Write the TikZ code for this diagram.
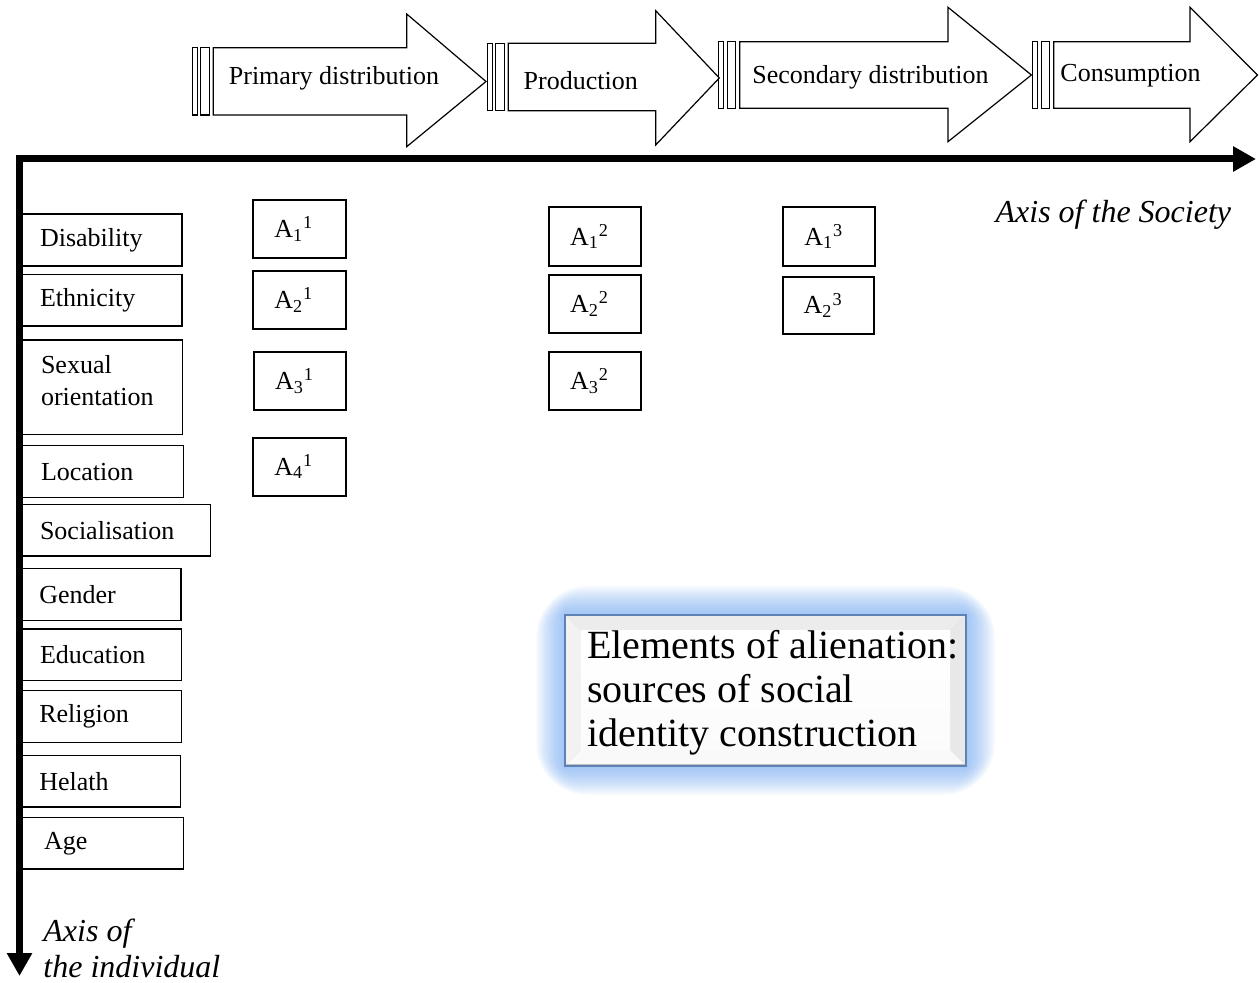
\documentclass[tikz,border=0pt]{standalone}
\usepackage{fontspec}
\setmainfont{Liberation Serif}
\usetikzlibrary{arrows.meta}
\definecolor{glowc}{RGB}{110,165,240}
\definecolor{bevelline}{RGB}{95,130,180}
\newcommand\tbox[8]{%
  \pgfmathsetmacro\tbw{(#6-#4)*0.5}%
  \pgfmathsetmacro\tbh{(#7-#5)*0.5}%
  \pgfmathsetmacro\tbt{\tbw-2*#2}%
  \node[#1, inner xsep=#2pt, minimum width=\tbw pt, minimum height=\tbh pt, text width=\tbt pt] (#3) at ({(#4+#6)/2},{(#5+#7)/2}) {#8};}
\newcommand\procarrow[8]{%
  \draw[flat] (#1,#2) rectangle ({#1+5},#3);
  \draw[flat] ({#1+8.5},#2) rectangle ({#1+17},#3);
  \draw[flat] ({#1+21},#2) -- (#4,#2) -- (#4,#5) -- (#7,#8) -- (#4,#6) -- (#4,#3) -- ({#1+21},#3) -- cycle;}
\begin{document}
\begin{tikzpicture}[x=0.5pt,y=-0.5pt,
  every node/.style={font=\fontsize{13}{15}\selectfont, inner sep=0pt},
  flat/.style={line width=0.6pt, line join=miter},
  lbx/.style={draw, line width=0.6pt, align=left},
  abx/.style={draw, line width=0.9pt, align=left},
  axisline/.style={line width=3.5pt, -{Triangle[length=11.5pt,width=12pt]}},
  axlab/.style={font=\fontsize{16}{18}\selectfont\itshape, align=left},
  ptext/.style={anchor=base west},
]
\useasboundingbox (0,0) rectangle (1259,983);

% process arrows
\procarrow{192.3}{47.7}{115}{406.7}{14}{146.7}{486}{81.5}
\procarrow{487.3}{43.3}{110.7}{655.7}{10.7}{145}{719.3}{78}
\procarrow{718.8}{41.7}{108.3}{948}{7.3}{141.7}{1031.4}{75}
\procarrow{1032.8}{41.7}{108.3}{1190}{7.3}{141.7}{1257.5}{75}
\node[ptext] (p1) at (228.5,85) {Primary distribution};
\node[ptext] (p2) at (523.3,90) {Production};
\node[ptext] (p3) at (752,84) {Secondary distribution};
\node[ptext] (p4) at (1060,82) {Consumption};

% axes
\coordinate (hstart) at (16,159);
\coordinate (hend) at (1256,159);
\coordinate (vstart) at (19.5,155.5);
\coordinate (vend) at (19.5,976);
\draw[axisline] (hstart) -- (hend);
\draw[axisline] (vstart) -- (vend);
\node[axlab, anchor=base east] (society) at (1231.5,223) {Axis of the Society};
\node[axlab, anchor=base west] (individual) at (43,977) {Axis of\\the individual};

% factor boxes
\tbox{lbx}{10}{disab}{20}{214}{182}{266}{Disability}
\tbox{lbx}{10}{ethn}{20}{274.3}{182}{326}{Ethnicity}
\tbox{lbx,font=\fontsize{13}{16}\selectfont}{10}{sexor}{21}{340}{182.7}{434.3}{Sexual\\orientation\\[-9pt]\mbox{}}
\tbox{lbx}{10}{loc}{21}{445.7}{183.3}{497.7}{Location}
\tbox{lbx}{10}{soc}{20}{504.7}{210.7}{556}{Socialisation}
\tbox{lbx}{10}{gend}{19.3}{568.3}{181}{620.3}{Gender}
\tbox{lbx}{10}{educ}{20}{629}{181.7}{680.7}{Education}
\tbox{lbx}{10}{relig}{19.3}{690.7}{181.7}{742.3}{Religion}
\tbox{lbx}{10}{health}{19.3}{755.3}{180.3}{807}{Helath}
\tbox{lbx}{11}{age}{22}{817.7}{183.7}{869}{Age}

% alienation boxes
\tbox{abx}{10.5}{a11}{253.3}{200}{345.7}{258.3}{A\textsubscript{1}\textsuperscript{1}}
\tbox{abx}{10.5}{a21}{253.3}{270.7}{345.7}{329}{A\textsubscript{2}\textsuperscript{1}}
\tbox{abx}{10.5}{a31}{254}{351.7}{346}{410}{A\textsubscript{3}\textsuperscript{1}}
\tbox{abx}{10.5}{a41}{253.3}{437.7}{345.7}{495.7}{A\textsubscript{4}\textsuperscript{1}}
\tbox{abx}{10.5}{a12}{549}{207.3}{641}{265.7}{A\textsubscript{1}\textsuperscript{2}}
\tbox{abx}{10.5}{a22}{549}{275}{641}{333.3}{A\textsubscript{2}\textsuperscript{2}}
\tbox{abx}{10.5}{a32}{549}{351.7}{641}{410}{A\textsubscript{3}\textsuperscript{2}}
\tbox{abx}{10.5}{a13}{783.3}{207.3}{875}{265.7}{A\textsubscript{1}\textsuperscript{3}}
\tbox{abx}{10.5}{a23}{782.7}{276.7}{874.3}{334.3}{A\textsubscript{2}\textsuperscript{3}}

% glowing bevelled box
\foreach \i in {1,...,16}{
  \fill[glowc, opacity=0.06, rounded corners={\i*1.6pt}] ({565-1.8*\i},{615-1.8*\i}) rectangle ({966+1.8*\i},{766+1.8*\i});
}
\fill[gray!15] (565,615) -- (966,615) -- (950,631) -- (581,631) -- cycle;
\fill[gray!10] (565,615) -- (581,631) -- (581,750) -- (565,766) -- cycle;
\fill[gray!18] (966,615) -- (966,766) -- (950,750) -- (950,631) -- cycle;
\fill[gray!5] (565,766) -- (581,750) -- (950,750) -- (966,766) -- cycle;
\shade[top color=white, bottom color=gray!3] (581,631) rectangle (950,750);
\draw[gray!50, line width=0.8pt] (566,764.5) -- (965,764.5);
\draw[bevelline, line width=0.7pt] (565,615) rectangle (966,766);
\node[anchor=west, align=left, font=\fontsize{20}{22}\selectfont] (elem) at (587,693) {Elements of alienation:\\sources of social\\identity construction};
\end{tikzpicture}
\end{document}
